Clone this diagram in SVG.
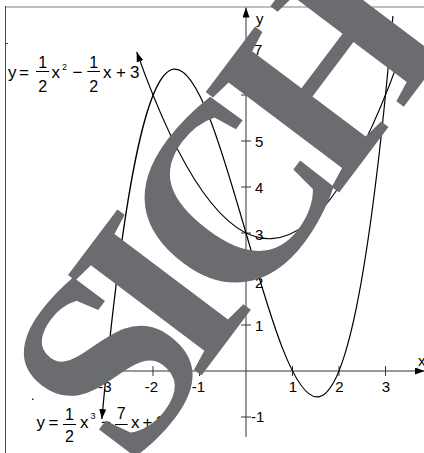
<svg xmlns="http://www.w3.org/2000/svg" width="424" height="453" viewBox="0 0 424 453">
<style>
.ax{stroke:#333;stroke-width:1;fill:none}
.cv{stroke:#000;stroke-width:1.2;fill:none}
.t{font-family:"Liberation Sans",Arial,sans-serif;fill:#000}
.tk{font-family:"Liberation Sans",Arial,sans-serif;font-size:15px;fill:#000}
.f{font-size:16px;text-anchor:middle}
.wm{font-family:"Liberation Serif","Times New Roman",serif;font-size:255px;font-weight:bold;fill:#6b6c70}
</style>
<defs>
<marker id="arr" markerUnits="userSpaceOnUse" viewBox="0 0 10 7" refX="10" refY="3.5" markerWidth="10" markerHeight="7" orient="auto-start-reverse">
<path d="M0,0 L10,3.5 L0,7 z" fill="#000"/>
</marker>
</defs>
<rect width="424" height="453" fill="#fff"/>
<g id="frame">
<line x1="5" y1="7" x2="424" y2="7" stroke="#aaa" stroke-width="1.6"/>
<line x1="5.5" y1="6" x2="5.5" y2="453" stroke="#444" stroke-width="1"/>
<line x1="5.5" y1="43.5" x2="8" y2="43.5" stroke="#444" stroke-width="1"/>
<rect x="32" y="398.5" width="1.5" height="1.5" fill="#333"/>
</g>
<g id="axes">
<line class="ax" x1="80" y1="371" x2="425" y2="371" marker-end="url(#arr)"/>
<line class="ax" x1="246" y1="437" x2="246" y2="7.5" marker-end="url(#arr)"/>
<path class="ax" d="M106.5,366V376M153,366V376M199.5,366V376M292.5,366V376M339,366V376M385.5,366V376"/>
<path class="ax" d="M241,49H251M241,95H251M241,141H251M241,187H251M241,233H251M241,279H251M241,325H251M241,417H251"/>
<text class="tk" x="256" y="24" font-size="16">y</text>
<text class="tk" x="418" y="366" font-size="16">x</text>
<g text-anchor="middle">
<text class="tk" x="105" y="391.5">-3</text>
<text class="tk" x="151.5" y="391.5">-2</text>
<text class="tk" x="198.5" y="391.5">-1</text>
<text class="tk" x="293" y="391.5">1</text>
<text class="tk" x="339.5" y="391.5">2</text>
<text class="tk" x="386" y="391.5">3</text>
</g>
<text class="tk" x="254" y="55">7</text>
<text class="tk" x="255" y="101">6</text>
<text class="tk" x="255" y="147">5</text>
<text class="tk" x="255" y="193">4</text>
<text class="tk" x="255" y="239.5">3</text>
<text class="tk" x="255" y="288">2</text>
<text class="tk" x="255" y="330.5">1</text>
<text class="tk" x="251" y="422">-1</text>
</g>
<g id="curves">
<path id="parabola" class="cv" d="M136.7,51.9 Q271.6,432.1 406.4,38.6" marker-start="url(#arr)"/>
<path id="cubic" class="cv" d="M101.85,419.1 C198.88,-628.6 295.91,1117.8 392.94,16.0" marker-start="url(#arr)"/>
</g>
<g id="label-parabola" class="t">
<text x="8" y="78" font-size="17">y</text>
<text x="19" y="78" font-size="17">=</text>
<line x1="36" y1="71.5" x2="49.3" y2="71.5" stroke="#000" stroke-width="1"/>
<text class="f" x="42.6" y="67.5">1</text>
<text class="f" x="42.6" y="91.5">2</text>
<text x="51.5" y="78" font-size="17">x</text>
<text x="62" y="69.5" font-size="9">2</text>
<text x="72.5" y="78" font-size="17">−</text>
<line x1="87.3" y1="71.5" x2="100" y2="71.5" stroke="#000" stroke-width="1"/>
<text class="f" x="93.6" y="67.5">1</text>
<text class="f" x="93.6" y="91.5">2</text>
<text x="103" y="78" font-size="17">x</text>
<text x="116" y="78" font-size="17">+</text>
<text x="130" y="78" font-size="17">3</text>
</g>
<g id="label-cubic" class="t">
<text x="36.5" y="428" font-size="17">y</text>
<text x="48.5" y="428" font-size="17">=</text>
<line x1="63" y1="424.5" x2="76" y2="424.5" stroke="#000" stroke-width="1"/>
<text class="f" x="69.5" y="419.5">1</text>
<text class="f" x="69.5" y="442">2</text>
<text x="80" y="428" font-size="17">x</text>
<text x="90.5" y="419" font-size="9">3</text>
<text x="101" y="428" font-size="17">−</text>
<line x1="115" y1="424.5" x2="127.7" y2="424.5" stroke="#000" stroke-width="1"/>
<text class="f" x="121.3" y="419">7</text>
<text class="f" x="121.3" y="442">2</text>
<text x="131" y="428" font-size="17">x</text>
<text x="142.5" y="428" font-size="17">+</text>
<text x="156" y="428" font-size="17">3</text>
</g>
<g id="watermark">
<text class="wm" transform="translate(120.4,482.8) rotate(-53)" x="16 126 201 359" y="2 0 0 0">SICH</text>
</g>
</svg>
